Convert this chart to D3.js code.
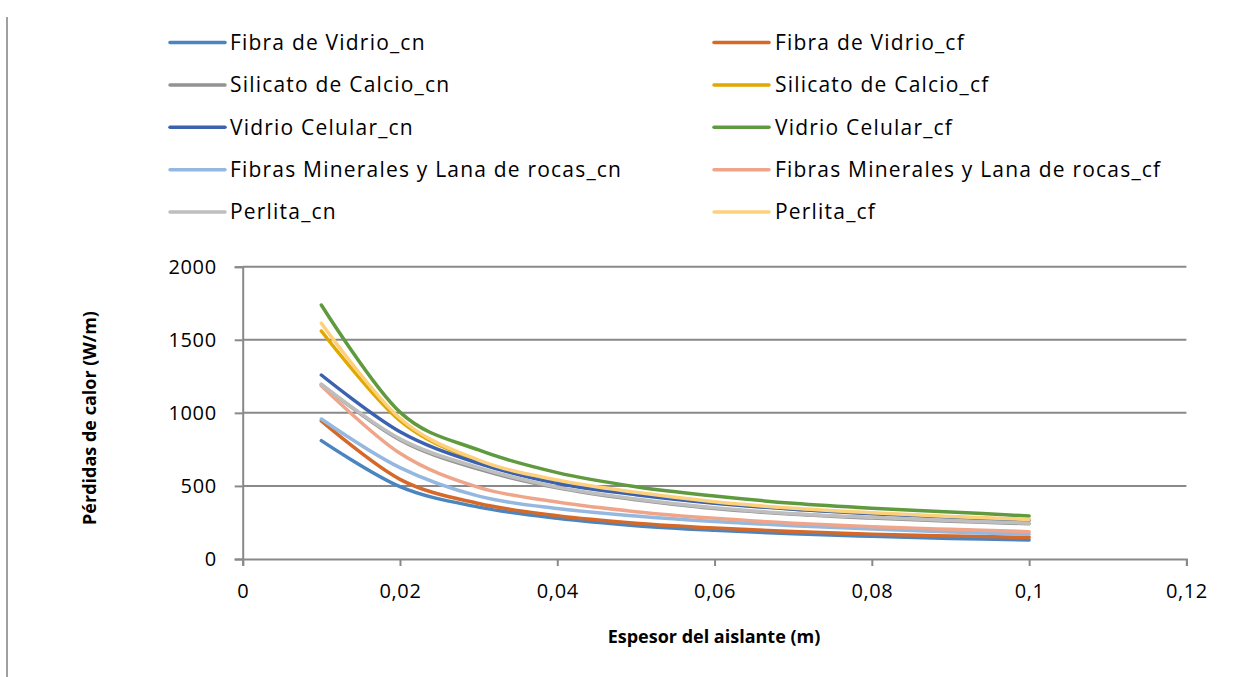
<!DOCTYPE html>
<html>
<head>
<meta charset="utf-8">
<script src="https://cdn.jsdelivr.net/npm/d3@7/dist/d3.min.js"></script>
<style>
  html, body { margin: 0; padding: 0; background: #ffffff; }
  svg { display: block; }
  text { font-family: "Open Sans", "Lato", sans-serif; fill: #000; }
</style>
</head>
<body>
<svg id="chart" width="1241" height="677"></svg>
<script>
// Insulation thickness (m)
const thickness = [0.01, 0.02, 0.03, 0.04, 0.05, 0.06, 0.07, 0.08, 0.09, 0.1];

// Heat losses (W/m) per insulating material, natural (cn) and forced (cf) convection
const fibraVidrioCn   = [810, 495, 355, 278, 228, 196, 172, 155, 141, 130];
const fibraVidrioCf   = [945, 545, 380, 296, 245, 212, 188, 170, 158, 148];
const silicatoCn      = [1195, 815, 615, 487, 405, 345, 306, 280, 259, 241];
const silicatoCf      = [1560, 946, 670, 535, 450, 385, 342, 312, 287, 268];
const vidrioCelCn     = [1259, 871, 655, 518, 440, 382, 340, 310, 285, 266];
const vidrioCelCf     = [1738, 1005, 746, 591, 495, 431, 381, 347, 322, 294];
const fibrasMinCn     = [958, 625, 430, 345, 294, 256, 228, 205, 185, 169];
const fibrasMinCf     = [1185, 723, 490, 390, 324, 278, 245, 221, 203, 187];
const perlitaCn       = [1195, 822, 625, 492, 410, 350, 310, 285, 263, 245];
const perlitaCf       = [1613, 963, 677, 540, 456, 392, 347, 317, 290, 271];

const seriesNames = [
  "Fibra de Vidrio_cn", "Fibra de Vidrio_cf",
  "Silicato de Calcio_cn", "Silicato de Calcio_cf",
  "Vidrio Celular_cn", "Vidrio Celular_cf",
  "Fibras Minerales y Lana de rocas_cn", "Fibras Minerales y Lana de rocas_cf",
  "Perlita_cn", "Perlita_cf"
];
const seriesValues = [
  fibraVidrioCn, fibraVidrioCf, silicatoCn, silicatoCf, vidrioCelCn,
  vidrioCelCf, fibrasMinCn, fibrasMinCf, perlitaCn, perlitaCf
];
const seriesColors = [
  "#4a85c0", "#d4692a", "#939393", "#e0a800", "#3b62ae",
  "#5f9a3f", "#95b8e0", "#eea58a", "#bebebe", "#fdd07c"
];

const xTickValues = [0, 0.02, 0.04, 0.06, 0.08, 0.1, 0.12];
const yTickValues = [0, 500, 1000, 1500, 2000];

const xTitle = "Espesor del aislante (m)";
const yTitle = "Pérdidas de calor (W/m)";

const svg = d3.select("#chart");
const axisColor = "#898989";
const fontFamily = "'Open Sans', Lato, sans-serif";

const plot = { left: 242.7, right: 1186.4, top: 266.7, bottom: 559 };

const x = d3.scaleLinear().domain([0, 0.12]).range([plot.left, plot.right]);
const y = d3.scaleLinear().domain([0, 2000]).range([plot.bottom, plot.top]);

// Thin frame line on the left edge
svg.append("line")
  .attr("x1", 7).attr("x2", 7).attr("y1", 17).attr("y2", 677)
  .attr("stroke", "#a0a0a0").attr("stroke-width", 2);

// Horizontal gridlines
svg.append("g")
  .selectAll("line")
  .data(yTickValues.filter(v => v > 0))
  .join("line")
  .attr("x1", plot.left).attr("x2", plot.right)
  .attr("y1", d => y(d)).attr("y2", d => y(d))
  .attr("stroke", axisColor).attr("stroke-width", 2);

const fmtX = v => String(v).replace(".", ",");
const fmtY = v => String(v);

// X axis
const xAxis = svg.append("g")
  .attr("transform", `translate(0,${plot.bottom})`)
  .call(d3.axisBottom(x).tickValues(xTickValues).tickFormat(fmtX).tickSizeOuter(0).tickSize(7).tickPadding(18));
xAxis.select(".domain").attr("stroke", axisColor).attr("stroke-width", 2);
xAxis.selectAll(".tick line").attr("stroke", axisColor).attr("stroke-width", 2);
xAxis.selectAll(".tick text")
  .attr("font-size", 20).attr("font-family", fontFamily)
  .attr("letter-spacing", 0.6).attr("fill", "#000");

// Y axis
const yAxis = svg.append("g")
  .attr("transform", `translate(${plot.left},0)`)
  .call(d3.axisLeft(y).tickValues(yTickValues).tickFormat(fmtY).tickSizeOuter(0).tickSize(8).tickPadding(18));
yAxis.select(".domain").attr("stroke", axisColor).attr("stroke-width", 2);
yAxis.selectAll(".tick line").attr("stroke", axisColor).attr("stroke-width", 2);
yAxis.selectAll(".tick text")
  .attr("font-size", 20).attr("font-family", fontFamily)
  .attr("letter-spacing", 0.6).attr("fill", "#000");

// Axis titles
svg.append("text")
  .attr("x", 714).attr("y", 643)
  .attr("text-anchor", "middle")
  .attr("font-size", 18).attr("font-weight", "bold")
  .text(xTitle);

svg.append("text")
  .attr("transform", `translate(96,418) rotate(-90)`)
  .attr("text-anchor", "middle")
  .attr("font-size", 18).attr("font-weight", "bold")
  .text(yTitle);

// Smoothed series lines
const line = d3.line()
  .x(d => x(d[0]))
  .y(d => y(d[1]))
  .curve(d3.curveCatmullRom.alpha(0));

svg.append("g")
  .selectAll("path")
  .data(seriesValues.map((vals, i) => ({ i, pts: thickness.map((t, k) => [t, vals[k]]) })))
  .join("path")
  .attr("d", d => line(d.pts))
  .attr("fill", "none")
  .attr("stroke", d => seriesColors[d.i])
  .attr("stroke-width", 3.5)
  .attr("stroke-linecap", "round")
  .attr("stroke-linejoin", "round");

// Legend: two columns, five rows
const legendCols = [
  { lineX1: 170, lineX2: 225, textX: 230 },
  { lineX1: 714, lineX2: 769, textX: 775 }
];
const legendRow0 = 42.5, legendRowStep = 42.4;

const legend = svg.append("g")
  .selectAll("g")
  .data(seriesNames.map((name, i) => ({ name, i })))
  .join("g")
  .attr("transform", d => `translate(0,${legendRow0 + Math.floor(d.i / 2) * legendRowStep})`);

legend.append("line")
  .attr("x1", d => legendCols[d.i % 2].lineX1)
  .attr("x2", d => legendCols[d.i % 2].lineX2)
  .attr("y1", 0).attr("y2", 0)
  .attr("stroke", d => seriesColors[d.i])
  .attr("stroke-width", 3.5)
  .attr("stroke-linecap", "round");

legend.append("text")
  .attr("x", d => legendCols[d.i % 2].textX)
  .attr("y", 0)
  .attr("dy", "0.35em")
  .attr("font-size", 21)
  .attr("letter-spacing", 1.2)
  .text(d => d.name);
</script>
</body>
</html>
